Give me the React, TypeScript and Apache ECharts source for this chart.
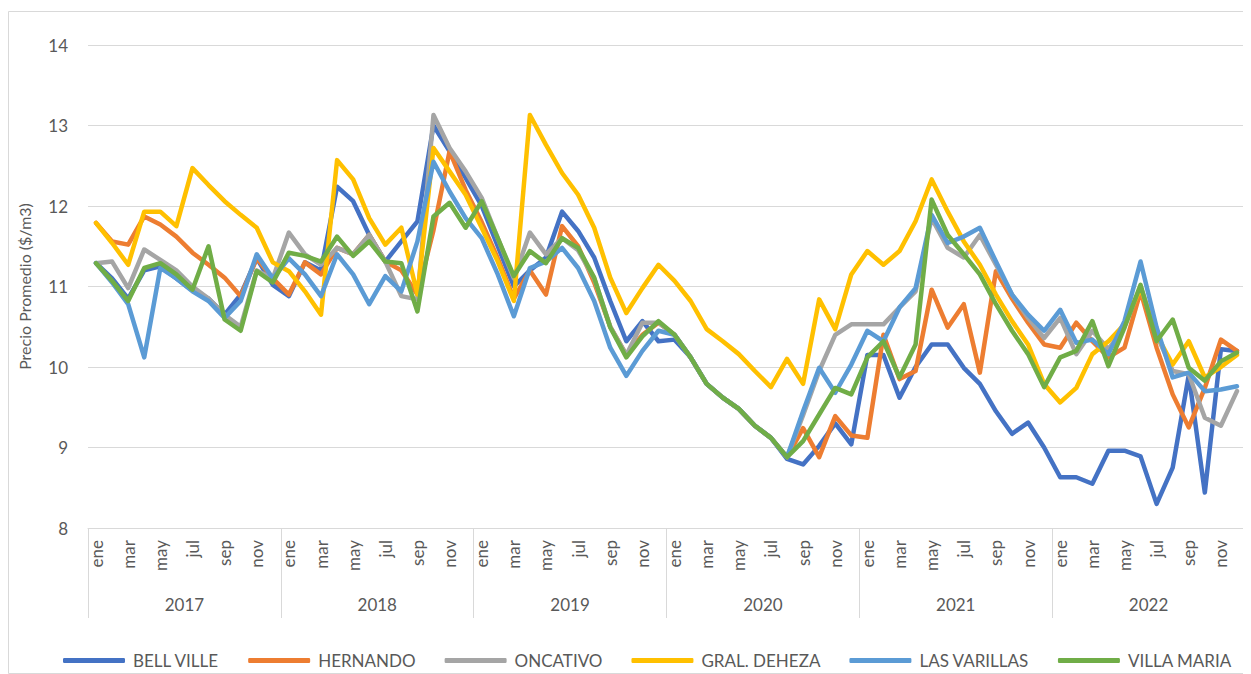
import React, { useEffect, useRef } from "react";
import * as echarts from "echarts";

const monthNames = ["ene", "feb", "mar", "abr", "may", "jun", "jul", "ago", "sep", "oct", "nov", "dic"];
const years = ["2017", "2018", "2019", "2020", "2021", "2022"];
const months = years.flatMap(() => monthNames);

const seriesNames = ["BELL VILLE", "HERNANDO", "ONCATIVO", "GRAL. DEHEZA", "LAS VARILLAS", "VILLA MARIA"];
const colors = ["#4472C4", "#ED7D31", "#A5A5A5", "#FFC000", "#5B9BD5", "#70AD47"];

const bellVille = [
  11.29, 11.1, 10.85, 11.2, 11.25, 11.1, 10.95, 10.85, 10.65, 10.9, 11.35, 11.02,
  10.88, 11.3, 11.2, 12.24, 12.06, 11.64, 11.31, 11.56, 11.81, 13.0, 12.68, 12.35,
  12.0, 11.5, 11.0, 11.2, 11.36, 11.93, 11.69, 11.36, 10.82, 10.32, 10.57, 10.32,
  10.34, 10.12, 9.79, 9.62, 9.48, 9.27, 9.12, 8.86, 8.79, 9.02, 9.3, 9.04,
  10.15, 10.15, 9.62, 10.0, 10.28, 10.28, 9.99, 9.79, 9.45, 9.17, 9.31, 9.0,
  8.63, 8.63, 8.55, 8.96, 8.96, 8.89, 8.3, 8.75, 9.9, 8.44, 10.22, 10.2,
];
const hernando = [
  11.79, 11.56, 11.52, 11.87, 11.77, 11.62, 11.42, 11.27, 11.11, 10.88, 11.35, 11.1,
  10.9, 11.3, 11.15, 11.48, 11.4, 11.64, 11.31, 11.2, 10.9, 11.7, 12.68, 12.2,
  11.8, 11.35, 10.85, 11.2, 10.9, 11.75, 11.5, 11.05, 10.5, 10.15, 10.4, 10.55,
  10.4, 10.12, 9.79, 9.62, 9.48, 9.27, 9.12, 8.88, 9.24, 8.88, 9.39, 9.15,
  9.12, 10.4, 9.85, 9.95, 10.96, 10.49, 10.78, 9.93, 11.19, 10.85, 10.55, 10.28,
  10.24, 10.55, 10.32, 10.12, 10.24, 10.94, 10.24, 9.66, 9.25, 9.74, 10.34, 10.2,
];
const oncativo = [
  11.29, 11.31, 10.98, 11.46, 11.33, 11.2, 11.0, 10.85, 10.65, 10.5, 11.2, 11.1,
  11.67, 11.4, 11.27, 11.48, 11.4, 11.64, 11.31, 10.88, 10.84, 13.13, 12.72, 12.43,
  12.1, 11.6, 11.1, 11.67, 11.4, 11.6, 11.45, 11.1, 10.5, 10.15, 10.55, 10.55,
  10.4, 10.12, 9.79, 9.62, 9.48, 9.27, 9.12, 8.88, 9.4, 9.95, 10.4, 10.53,
  10.53, 10.53, 10.74, 10.94, 11.85, 11.48, 11.36, 11.64, 11.27, 10.9, 10.61, 10.36,
  10.61, 10.16, 10.45, 10.22, 10.5, 11.0, 10.4, 9.95, 9.91, 9.37, 9.27, 9.7,
];
const gralDeheza = [
  11.79, 11.54, 11.27, 11.93, 11.93, 11.75, 12.47, 12.26, 12.06, 11.89, 11.73, 11.3,
  11.19, 10.94, 10.65, 12.57, 12.33, 11.85, 11.52, 11.73, 10.9, 12.72, 12.43, 12.14,
  11.73, 11.31, 10.82, 13.13, 12.76, 12.41, 12.14, 11.73, 11.11, 10.67, 10.98, 11.27,
  11.07, 10.82, 10.47, 10.32, 10.16, 9.95, 9.75, 10.1, 9.79, 10.84, 10.47, 11.15,
  11.44, 11.27, 11.44, 11.81, 12.33, 11.93, 11.56, 11.27, 10.9, 10.57, 10.28, 9.79,
  9.56, 9.74, 10.16, 10.32, 10.53, 10.98, 10.4, 10.03, 10.32, 9.87, 10.0, 10.15,
];
const lasVarillas = [
  11.29, 11.05, 10.78, 10.12, 11.23, 11.1, 10.94, 10.82, 10.61, 10.82, 11.4, 11.1,
  11.35, 11.15, 10.88, 11.4, 11.15, 10.78, 11.13, 10.94, 11.56, 12.55, 12.18, 11.85,
  11.6, 11.15, 10.63, 11.23, 11.31, 11.48, 11.23, 10.82, 10.24, 9.89, 10.2, 10.45,
  10.4, 10.12, 9.79, 9.62, 9.48, 9.27, 9.12, 8.88, 9.45, 9.99, 9.68, 10.03,
  10.45, 10.32, 10.74, 10.98, 11.89, 11.54, 11.62, 11.73, 11.31, 10.9, 10.65, 10.45,
  10.71, 10.3, 10.34, 10.16, 10.57, 11.31, 10.49, 9.87, 9.93, 9.7, 9.72, 9.76,
];
const villaMaria = [
  11.29, 11.07, 10.82, 11.23, 11.29, 11.15, 10.96, 11.5, 10.59, 10.45, 11.19, 11.05,
  11.42, 11.38, 11.31, 11.62, 11.38, 11.56, 11.31, 11.29, 10.69, 11.87, 12.04, 11.73,
  12.06, 11.6, 11.13, 11.44, 11.29, 11.6, 11.48, 11.11, 10.49, 10.12, 10.38, 10.57,
  10.4, 10.12, 9.79, 9.62, 9.48, 9.27, 9.12, 8.88, 9.08, 9.41, 9.74, 9.66,
  10.12, 10.32, 9.87, 10.28, 12.08, 11.64, 11.4, 11.15, 10.78, 10.45, 10.16, 9.75,
  10.12, 10.2, 10.57, 10.01, 10.49, 11.02, 10.32, 10.59, 9.99, 9.83, 10.07, 10.18,
];
const seriesData = [bellVille, hernando, oncativo, gralDeheza, lasVarillas, villaMaria];

const FONT = "Lato";
const TEXT = "#595959";
const GRID = "#d9d9d9";

export default function App() {
  const ref = useRef<HTMLDivElement>(null);
  useEffect(() => {
    if (!ref.current) return;
    const chart = echarts.init(ref.current, undefined, { renderer: "svg" });
    chart.setOption({
      animation: false,
      backgroundColor: "#ffffff",
      textStyle: { fontFamily: FONT },
      graphic: [
        {
          type: "rect",
          shape: { x: 0.5, y: 3.5, width: 1242, height: 662 },
          style: { fill: "none", stroke: GRID, lineWidth: 1 },
          silent: true,
        },
      ],
      grid: { left: 80, right: 6, top: 37, bottom: 146, containLabel: false },
      legend: {
        top: 639,
        left: 50,
        itemWidth: 62,
        itemHeight: 5,
        itemGap: 29,
        icon: "roundRect",
        textStyle: { color: TEXT, fontSize: 17, fontFamily: FONT, padding: [0, 0, 0, 3] },
        data: seriesNames,
      },
      xAxis: [
        {
          type: "category",
          data: months,
          boundaryGap: true,
          axisLine: { show: true, lineStyle: { color: GRID, width: 1 } },
          axisTick: { show: false },
          axisLabel: {
            interval: 1,
            rotate: 90,
            margin: 12,
            color: TEXT,
            fontSize: 17,
            fontFamily: FONT,
          },
          splitLine: { show: false },
        },
        {
          type: "category",
          data: years,
          position: "bottom",
          boundaryGap: true,
          axisLine: { show: false },
          axisTick: { show: true, length: 90, interval: 0, lineStyle: { color: GRID, width: 1 } },
          axisLabel: { interval: 0, margin: 68, color: TEXT, fontSize: 17, fontFamily: FONT },
          splitLine: { show: false },
        },
      ],
      yAxis: {
        type: "value",
        min: 8,
        max: 14,
        interval: 1,
        name: "Precio Promedio ($/m3)",
        nameLocation: "middle",
        nameRotate: 90,
        nameGap: 56,
        nameTextStyle: { color: TEXT, fontSize: 16, fontFamily: FONT },
        axisLine: { show: false },
        axisTick: { show: false },
        axisLabel: { color: TEXT, fontSize: 17, margin: 20, fontFamily: FONT },
        splitLine: { lineStyle: { color: GRID, width: 1 } },
      },
      series: seriesNames.map((name, i) => ({
        name,
        type: "line",
        xAxisIndex: 0,
        data: seriesData[i],
        symbol: "none",
        color: colors[i],
        lineStyle: { color: colors[i], width: 4.5, join: "round", cap: "round" },
        itemStyle: { color: colors[i] },
      })),
    });
    return () => chart.dispose();
  }, []);
  return <div ref={ref} style={{ width: 1243, height: 666 }} />;
}
